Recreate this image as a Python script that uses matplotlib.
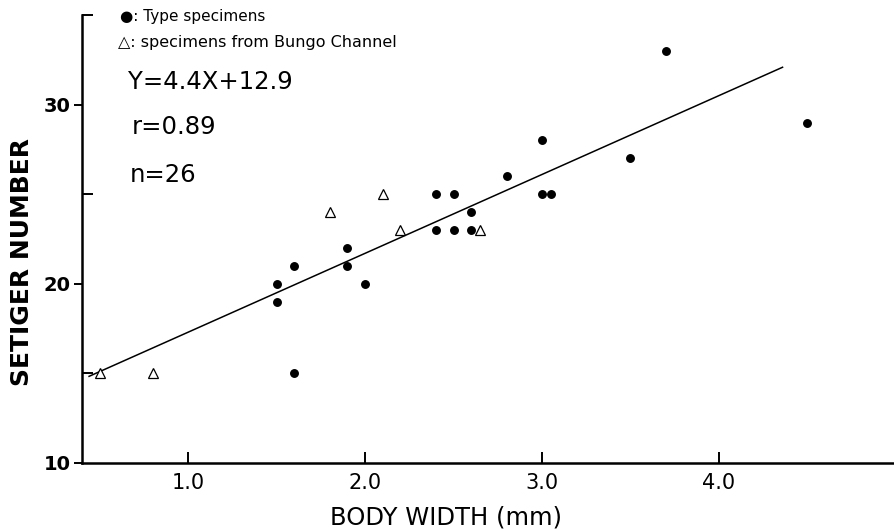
import matplotlib
matplotlib.use("Agg")
import matplotlib.pyplot as plt
import numpy as np

# Body width (mm) and setiger number for each specimen
type_width = [1.5, 1.5, 1.6, 1.6, 1.9, 1.9, 2.0, 2.4, 2.4, 2.5, 2.5, 2.6, 2.6,
              2.8, 3.0, 3.0, 3.05, 3.5, 3.7, 4.5]
type_setiger = [20, 19, 21, 15, 22, 21, 20, 25, 23, 25, 23, 24, 23,
                26, 28, 25, 25, 27, 33, 29]

bungo_width = [0.5, 0.8, 1.8, 2.1, 2.2, 2.65]
bungo_setiger = [15, 15, 24, 25, 23, 23]

# Regression Y = a X + b
slope = 4.4
intercept = 12.9
r_value = 0.89
line_x = [0.44, 4.36]

x_ticks = [1.0, 2.0, 3.0, 4.0]
x_tick_labels = ["1.0", "2.0", "3.0", "4.0"]
y_ticks = [10, 20, 30]
y_minor_ticks = [15, 25, 35]

W, H = 894, 529
fig = plt.figure(figsize=(W / 100, H / 100), dpi=100)
fig.patch.set_facecolor("white")


def fx(px):
    return px / W


def fy(py):
    return 1 - py / H


ax = fig.add_axes([fx(82), fy(463), 1 - fx(82), fy(15) - fy(463)])
ax.set_xlim(0.40, 4.99)
ax.set_ylim(10, 35)

for side in ("top", "right"):
    ax.spines[side].set_visible(False)
for side in ("left", "bottom"):
    ax.spines[side].set_linewidth(1.8)
    ax.spines[side].set_color("black")

# Regression line
lx = np.array(line_x)
ax.plot(lx, slope * lx + intercept, color="black", lw=1.1, zorder=2)

# Specimens
ax.plot(type_width, type_setiger, linestyle="none", marker="o",
        markersize=5.4, color="black", zorder=3)
ax.plot(bungo_width, bungo_setiger, linestyle="none", marker="^",
        markersize=6.5, markerfacecolor="white", markeredgecolor="black",
        markeredgewidth=0.9, zorder=3)

# Ticks
ax.set_xticks(x_ticks)
ax.set_xticklabels(x_tick_labels)
ax.tick_params(axis="x", direction="in", length=8, width=1.4, pad=7,
               labelsize=15)
ax.set_yticks(y_ticks)
ax.set_yticklabels([str(v) for v in y_ticks], fontweight="bold")
ax.set_yticks(y_minor_ticks, minor=True)
ax.tick_params(axis="y", which="major", direction="out", length=6,
               width=1.4, pad=2, labelsize=14)
ax.tick_params(axis="y", which="minor", direction="in", length=8,
               width=1.4)

# Axis titles
fig.text(fx(446), fy(518), "BODY WIDTH (mm)", ha="center", va="center",
         fontsize=17.5)
fig.text(fx(22), fy(262), "SETIGER NUMBER", ha="center", va="center",
         rotation=90, fontsize=18, fontweight="bold")

# Key and statistics
fig.text(fx(120), fy(16), "●: Type specimens", ha="left", va="center",
         fontsize=11)
fig.text(fx(118), fy(42), "△: specimens from Bungo Channel", ha="left",
         va="center", fontsize=11.5)
fig.text(fx(128), fy(82), f"Y={slope}X+{intercept}", ha="left",
         va="center", fontsize=17.5)
fig.text(fx(132), fy(127), f"r={r_value}", ha="left", va="center",
         fontsize=17.5)
fig.text(fx(130), fy(175), f"n={len(type_width) + len(bungo_width)}",
         ha="left", va="center", fontsize=17.5)

fig.savefig("out.png", dpi=100, facecolor="white")
